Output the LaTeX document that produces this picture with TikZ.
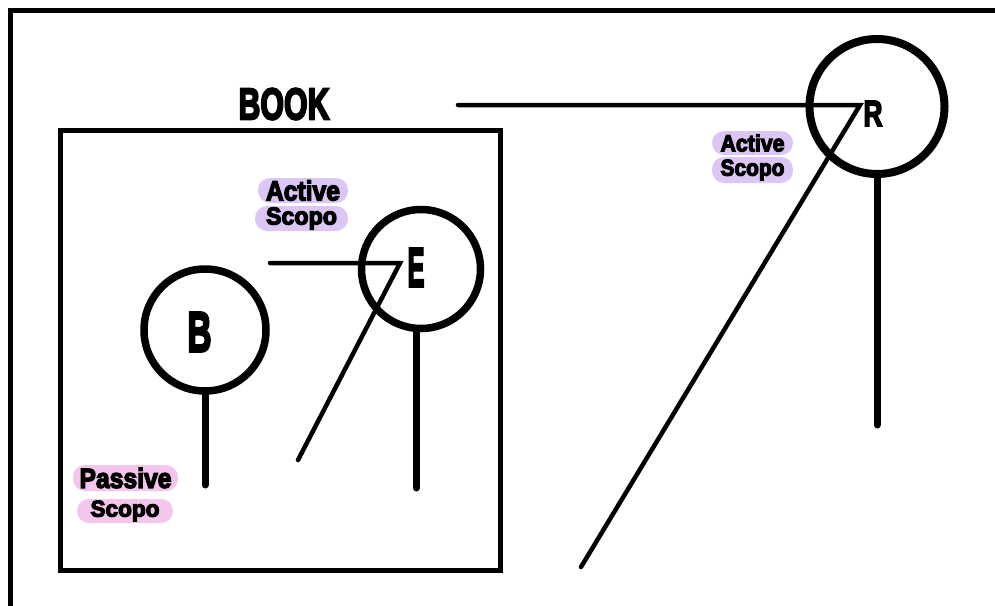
\documentclass[tikz,border=0pt]{standalone}
\usepackage{fontspec}
\usepackage{graphicx}
\newfontfamily\hv[FakeBold=5]{Liberation Sans Bold}
\definecolor{lav}{HTML}{DCC6F4}
\definecolor{pnk}{HTML}{F4C6EC}
\newcommand{\fitt}[3]{\resizebox{#1pt}{#2pt}{\hv #3}}
\tikzset{
  frame/.style={draw=black, line width=5pt},
  ring/.style={circle, draw=black, line width=7.5pt, inner sep=0pt},
  stem/.style={draw=black, line width=7pt, line cap=round},
  vline/.style={draw=black, line width=4.5pt, line cap=round, line join=miter},
  letter/.style={inner sep=0pt, text=black},
  pill/.style={inner sep=0pt, fill=#1, rounded corners=12pt},
}
\begin{document}
\begin{tikzpicture}[x=1pt,y=-1pt]
\useasboundingbox (0,0) rectangle (995,605);
\clip (0,0) rectangle (995,605);
\fill[white] (0,0) rectangle (995,605);
% outer frame (cropped at right and bottom)
\draw[frame] (10,10) rectangle (1030,640);
% book box
\node[frame, minimum width=440pt, minimum height=440pt, inner sep=0pt] (book) at (280,350) {};
\node[letter] (booklabel) at (284,104) {\fitt{91}{31}{BOOK}};

% B
\node[ring, minimum size=122pt] (Bc) at (205,330) {};
\node[letter] (Bl) at (199.5,332) {\fitt{24}{39}{B}};
\coordinate (Bs) at (205,485);
\draw[stem] (Bc.south) -- (Bs);

% E
\node[ring, minimum size=119pt] (Ec) at (421,269) {};
\node[letter] (El) at (416,267.5) {\fitt{17}{38}{E}};
\coordinate (Es) at (416,488);
\draw[stem] (Ec.south -| Es) -- (Es);
\coordinate (Eh) at (270,263);
\coordinate (Ev) at (400,263);
\coordinate (Ed) at (298,460);
\draw[vline] (Eh) -- (Ev) -- (Ed);

% R
\node[ring, line width=8pt, minimum size=135pt] (Rc) at (877,106.5) {};
\node[letter] (Rl) at (873,113.5) {\fitt{19}{25}{R}};
\coordinate (Rs) at (877,425);
\draw[stem] (Rc.south) -- (Rs);
\coordinate (Rh) at (458,105);
\coordinate (Rv) at (860,105);
\coordinate (Rd) at (581,567);
\draw[vline] (Rh) -- (Rv) -- (Rd);

% labels
\node[pill=lav, minimum width=90pt, minimum height=25pt] (ea) at (303,190.5) {\fitt{74}{20}{Active}};
\node[pill=lav, minimum width=93pt, minimum height=25pt] (es) at (301.5,218.5) {\fitt{71}{17}{Scopo}};
\node[pill=lav, minimum width=81pt, minimum height=24pt] (ra) at (752.5,143) {\fitt{64}{17}{Active}};
\node[pill=lav, minimum width=81pt, minimum height=26pt] (rs) at (752.5,170) {\fitt{64}{16}{Scopo}};
\node[pill=pnk, minimum width=105pt, minimum height=26pt] (pa) at (125.5,478) {\fitt{92}{20}{Passive}};
\node[pill=pnk, minimum width=96pt, minimum height=24pt] (ps) at (125,511) {\fitt{69}{16}{Scopo}};
\end{tikzpicture}
\end{document}
